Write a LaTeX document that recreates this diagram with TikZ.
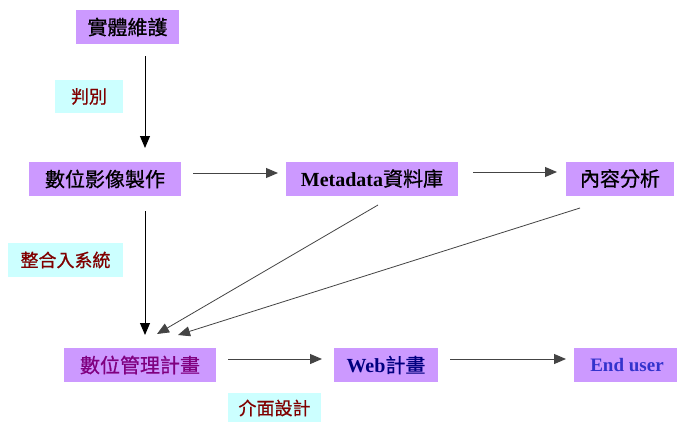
\documentclass[tikz,border=0pt]{standalone}
\usepackage{fontspec}
\setmainfont{Liberation Serif}
\newfontfamily\cjk[FakeBold=0.8]{Noto Sans CJK TC}
\usetikzlibrary{arrows.meta}
\definecolor{boxv}{HTML}{CC99FF}
\definecolor{boxc}{HTML}{CCFFFF}
\definecolor{dred}{HTML}{800000}
\definecolor{dpurp}{HTML}{800080}
\definecolor{dnavy}{HTML}{000080}
\definecolor{eblue}{HTML}{3333CC}
\definecolor{garr}{HTML}{444444}
\tikzset{
  pbox/.style={fill=boxv, inner sep=0pt, minimum height=34pt, font=\fontsize{20}{22}\selectfont\cjk},
  cbox/.style={fill=boxc, inner sep=0pt, minimum height=33pt, text=dred, font=\fontsize{18}{20}\selectfont\cjk},
  arr/.style={-{Triangle[length=12pt,width=10pt]}, line width=1pt, black},
  garrow/.style={-{Triangle[length=12pt,width=10pt]}, line width=1pt, garr}
}
\begin{document}
\begin{tikzpicture}[x=1pt,y=-1pt]
\useasboundingbox[fill=white] (0,0) rectangle (677,421);
\node[pbox, minimum width=103pt] (wh) at (127.5,27) {實體維護};
\node[cbox, minimum width=68pt] (pb) at (89,96.5) {判別};
\node[pbox, minimum width=152pt] (sz) at (105,179) {數位影像製作};
\node[pbox, minimum width=172pt, font=\fontsize{20}{22}\selectfont] (md) at (372,178.5) {\textbf{Metadata}{\cjk 資料庫}};
\node[pbox, minimum width=108pt] (nr) at (620,178.5) {內容分析};
\node[cbox, minimum width=115pt, minimum height=34pt] (zh) at (65.5,260) {整合入系統};
\node[pbox, minimum width=152pt, text=dpurp] (gl) at (140,365) {數位管理計畫};
\node[pbox, minimum width=104pt, text=dnavy, font=\fontsize{20}{22}\selectfont\bfseries] (web) at (386,365) {Web{\cjk\mdseries 計畫}};
\node[pbox, minimum width=106pt, text=eblue, font=\fontsize{19}{22}\selectfont\bfseries] (eu) at (627,365) {End user};
\node[cbox, minimum width=93pt, minimum height=30pt] (jm) at (274.5,408) {介面設計};
% endpoints
\coordinate (a1s) at (145,56);  \coordinate (a1e) at (145,148);
\coordinate (a2s) at (193,173); \coordinate (a2e) at (278,173);
\coordinate (a3s) at (473,172); \coordinate (a3e) at (557,172);
\coordinate (a4s) at (145,211); \coordinate (a4e) at (145,335);
\coordinate (a5s) at (378,205); \coordinate (a5e) at (157,334);
\coordinate (a6s) at (580,208); \coordinate (a6e) at (178,335);
\coordinate (a7s) at (228,359); \coordinate (a7e) at (322,359);
\coordinate (a8s) at (450,359); \coordinate (a8e) at (566,359);
\draw[arr] (a1s) -- (a1e);
\draw[garrow] (a2s) -- (a2e);
\draw[garrow] (a3s) -- (a3e);
\draw[arr] (a4s) -- (a4e);
\draw[garrow, line width=0.8pt] (a5s) -- (a5e);
\draw[garrow, line width=0.8pt] (a6s) -- (a6e);
\draw[garrow] (a7s) -- (a7e);
\draw[garrow] (a8s) -- (a8e);
\end{tikzpicture}
\end{document}
